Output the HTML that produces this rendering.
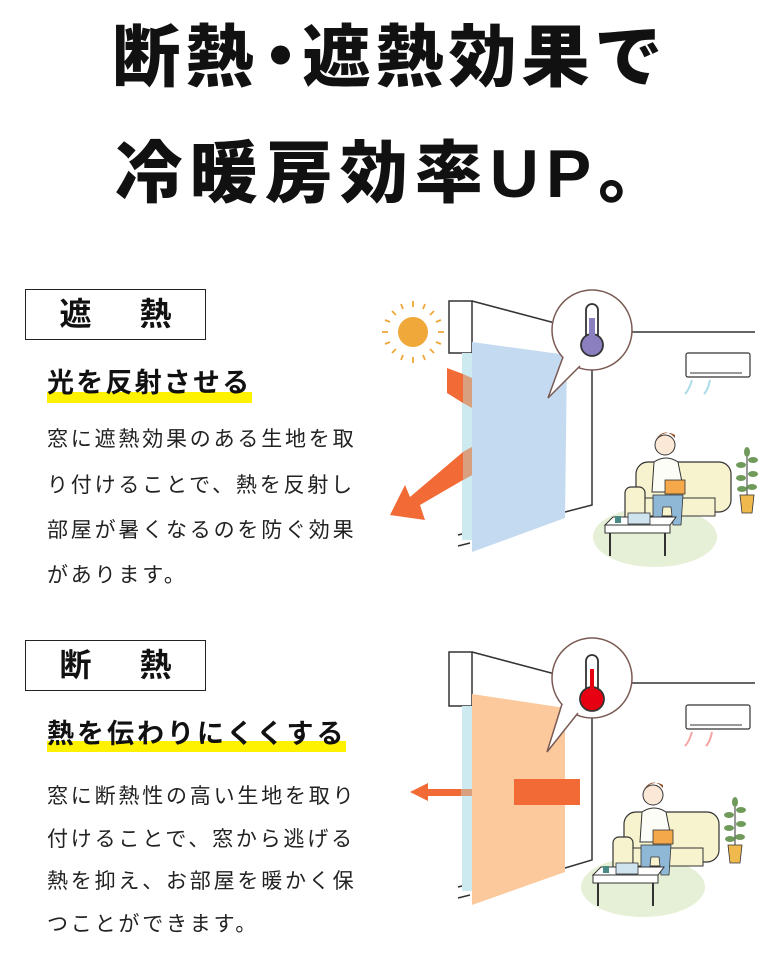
<!DOCTYPE html>
<html><head><meta charset="utf-8"><style>
*{margin:0;padding:0}
body{width:780px;height:953px;background:#fff;position:relative;overflow:hidden;font-family:"Liberation Sans","Noto Sans CJK JP",sans-serif;color:#111}
.t{position:absolute;white-space:nowrap;line-height:1}
.title{font-weight:900;font-size:68px;left:0;width:780px;text-align:center}
.box{position:absolute;left:25px;width:181px;height:51px;border:1.3px solid #222;box-sizing:border-box;font-weight:700;font-size:32px;line-height:49px;text-align:center;letter-spacing:8px;padding-left:8px}
.hl{position:absolute;background:#fff200;height:11px}
.h{font-weight:700;font-size:27px;left:47px;letter-spacing:2.2px}
.b{font-size:21px;left:47px;letter-spacing:2.8px;color:#222}
</style></head><body>
<div class="t title" style="top:24px;letter-spacing:5px">断熱<span style="letter-spacing:-20px;margin-left:-12px">・</span><span style="margin-left:8px">遮熱効果で</span></div>
<div class="t title" style="top:140px;letter-spacing:7px;left:4px">冷暖房効率UP。</div>

<div class="box" style="top:289px">遮　熱</div>
<div class="hl" style="left:47px;top:392px;width:205px"></div>
<div class="t h" style="top:370px">光を反射させる</div>
<div class="t b" style="top:429px">窓に遮熱効果のある生地を取</div>
<div class="t b" style="top:475px">り付けることで、熱を反射し</div>
<div class="t b" style="top:520px">部屋が暑くなるのを防ぐ効果</div>
<div class="t b" style="top:565px">があります。</div>

<div class="box" style="top:640px">断　熱</div>
<div class="hl" style="left:47px;top:741px;width:299px"></div>
<div class="t h" style="top:721px;letter-spacing:3px">熱を伝わりにくくする</div>
<div class="t b" style="top:786px">窓に断熱性の高い生地を取り</div>
<div class="t b" style="top:829px">付けることで、窓から逃げる</div>
<div class="t b" style="top:871px">熱を抑え、お部屋を暖かく保</div>
<div class="t b" style="top:914px">つことができます。</div>

<svg width="780" height="953" style="position:absolute;left:0;top:0" xmlns="http://www.w3.org/2000/svg">
<defs>
<g id="room">
 <ellipse cx="655" cy="537" rx="62" ry="30" fill="#e6f0d6"/>
 <rect x="636" y="462" width="95" height="50" rx="12" fill="#f7f3cf" stroke="#333" stroke-width="1.2"/>
 <rect x="625" y="487" width="20" height="35" rx="6" fill="#f7f3cf" stroke="#333" stroke-width="1.2"/>
 <rect x="645" y="498" width="70" height="18" fill="#f7f3cf" stroke="#333" stroke-width="1"/>
 <circle cx="665" cy="445" r="10" fill="#fbe8d6" stroke="#333"/>
 <path d="M655 440 q10 -14 20 -2 l0 -3 q-10 -6 -20 5z" fill="#8a4a22"/>
 <path d="M654 462 q12 -8 24 0 l6 30 -32 0z" fill="#fdfdf8" stroke="#333"/>
 <rect x="665" y="480" width="20" height="14" fill="#f4a84a" stroke="#333" stroke-width=".8"/>
 <path d="M653 495 l30 0 -2 30 -8 0 -2 -18 -8 0 -2 18 -8 0z" fill="#8fb7d6" stroke="#333" stroke-width=".8"/>
 <path d="M605 525 l65 0 6 -8 -63 0z" fill="#fff" stroke="#333"/>
 <rect x="605" y="525" width="65" height="8" fill="#fff" stroke="#333"/>
 <line x1="610" y1="533" x2="610" y2="556" stroke="#333" stroke-width="2"/>
 <line x1="665" y1="533" x2="665" y2="556" stroke="#333" stroke-width="2"/>
 <rect x="628" y="513" width="22" height="11" fill="#cfe4ef" stroke="#333" stroke-width=".8"/>
 <rect x="615" y="516" width="6" height="7" fill="#4a8a86"/>
 <path d="M740 495 l14 0 -2 18 -10 0z" fill="#f0b94e" stroke="#333" stroke-width=".8"/>
 <path d="M747 495 l0 -40" stroke="#333"/>
 <g fill="#6f9a5a"><ellipse cx="741" cy="465" rx="5" ry="3"/><ellipse cx="753" cy="460" rx="5" ry="3"/><ellipse cx="741" cy="478" rx="5" ry="3"/><ellipse cx="753" cy="474" rx="5" ry="3"/><ellipse cx="747" cy="452" rx="3" ry="5"/><ellipse cx="742" cy="489" rx="5" ry="3"/><ellipse cx="752" cy="487" rx="5" ry="3"/></g>
</g>
</defs>

<g fill="none" stroke="#333" stroke-width="1.5">
 <rect x="449" y="301" width="23" height="52" fill="#fff"/>
 <path d="M472 301 L555 323"/>
 <path d="M632 332 L755 332"/>
 <path d="M592 370 L592 505 L565 512"/>
 <path d="M458 535 l12 -3 M458 546 l12 -3"/>
</g>
<rect x="462" y="353" width="11" height="187" fill="#cdeaf0"/>
<polygon points="472,342 567,355 565,518 472,552" fill="#c4daf0"/>
<circle cx="592" cy="330" r="40" fill="#fff" stroke="#7a5a55" stroke-width="1.5"/>
<path d="M563 357 L548 398 L580 366" fill="#fff" stroke="#7a5a55" stroke-width="1.5"/>
<path d="M571 352 L583 364" stroke="#fff" stroke-width="5"/>
<rect x="586" y="304" width="12" height="40" rx="6" fill="#fff" stroke="#333" stroke-width="1.8"/>
<circle cx="592" cy="345" r="11" fill="#8b7fc0" stroke="#333" stroke-width="1.8"/>
<rect x="589" y="318" width="6" height="28" fill="#8b7fc0"/>
<circle cx="413" cy="332" r="15" fill="#f0a83a"/>
<g stroke="#f0a83a" stroke-width="1.8"><path d="M413 307v-6M413 357v6M388 332h-6M438 332h6M396 315l-4 -4M430 349l4 4M430 315l4 -4M396 349l-4 4M403 309l-2 -5M423 355l2 5M390 322l-5 -2M436 342l5 2M423 309l2 -5M403 355l-2 5M436 322l5 -2M390 342l-5 2"/></g>
<polygon points="447,368 463,374 463,403 447,393" fill="#f26a36"/>
<polygon points="463,374 472,378 472,408 463,403" fill="#d9a07f"/>
<polygon points="463,452 472,447 472,475 463,480 420,505 425,520 390,515 405,485 410,497" fill="#f26a36"/>
<polygon points="463,452 472,447 472,475 463,480" fill="#d9a07f"/>
<rect x="686" y="353" width="64" height="24" rx="2" fill="#fff" stroke="#333" stroke-width="1.2"/>
<path d="M690 373 h52" stroke="#333"/>
<g stroke="#aadce8" stroke-width="2" fill="none"><path d="M692 380 q-3 10 -7 14 M710 380 q-2 10 -6 14"/></g>
<use href="#room"/>

<g fill="none" stroke="#333" stroke-width="1.5">
 <rect x="449" y="652" width="23" height="54" fill="#fff"/>
 <path d="M472 652 L555 674"/>
 <path d="M632 683 L755 683"/>
 <path d="M592 718 L592 860 L565 868"/>
 <path d="M458 887 l12 -3 M458 898 l12 -3"/>
</g>
<rect x="462" y="706" width="11" height="185" fill="#cdeaf0"/>
<polygon points="472,694 565,708 565,872 472,905" fill="#fbc99b"/>
<circle cx="592" cy="678" r="40" fill="#fff" stroke="#7a5a55" stroke-width="1.5"/>
<path d="M562 704 L547 752 L578 713" fill="#fff" stroke="#7a5a55" stroke-width="1.5"/>
<path d="M568 700 L581 712" stroke="#fff" stroke-width="5"/>
<rect x="586" y="655" width="12" height="40" rx="6" fill="#fff" stroke="#333" stroke-width="1.8"/>
<circle cx="592" cy="699" r="12" fill="#e60012" stroke="#333" stroke-width="1.8"/>
<rect x="590" y="669" width="4" height="30" fill="#e60012"/>
<rect x="514" y="779" width="66" height="26" fill="#f26a36"/>
<rect x="460" y="789" width="12" height="7" fill="#d9a07f"/>
<rect x="425" y="789" width="36" height="7" fill="#f26a36"/>
<polygon points="410,792 428,783 428,801" fill="#f26a36"/>
<rect x="686" y="705" width="64" height="24" rx="2" fill="#fff" stroke="#333" stroke-width="1.2"/>
<path d="M690 725 h52" stroke="#333"/>
<g stroke="#f4a5a5" stroke-width="2" fill="none"><path d="M692 732 q-3 10 -7 14 M712 732 q-2 10 -6 14"/></g>
<use href="#room" transform="translate(-12,350)"/>
</svg>
</body></html>
